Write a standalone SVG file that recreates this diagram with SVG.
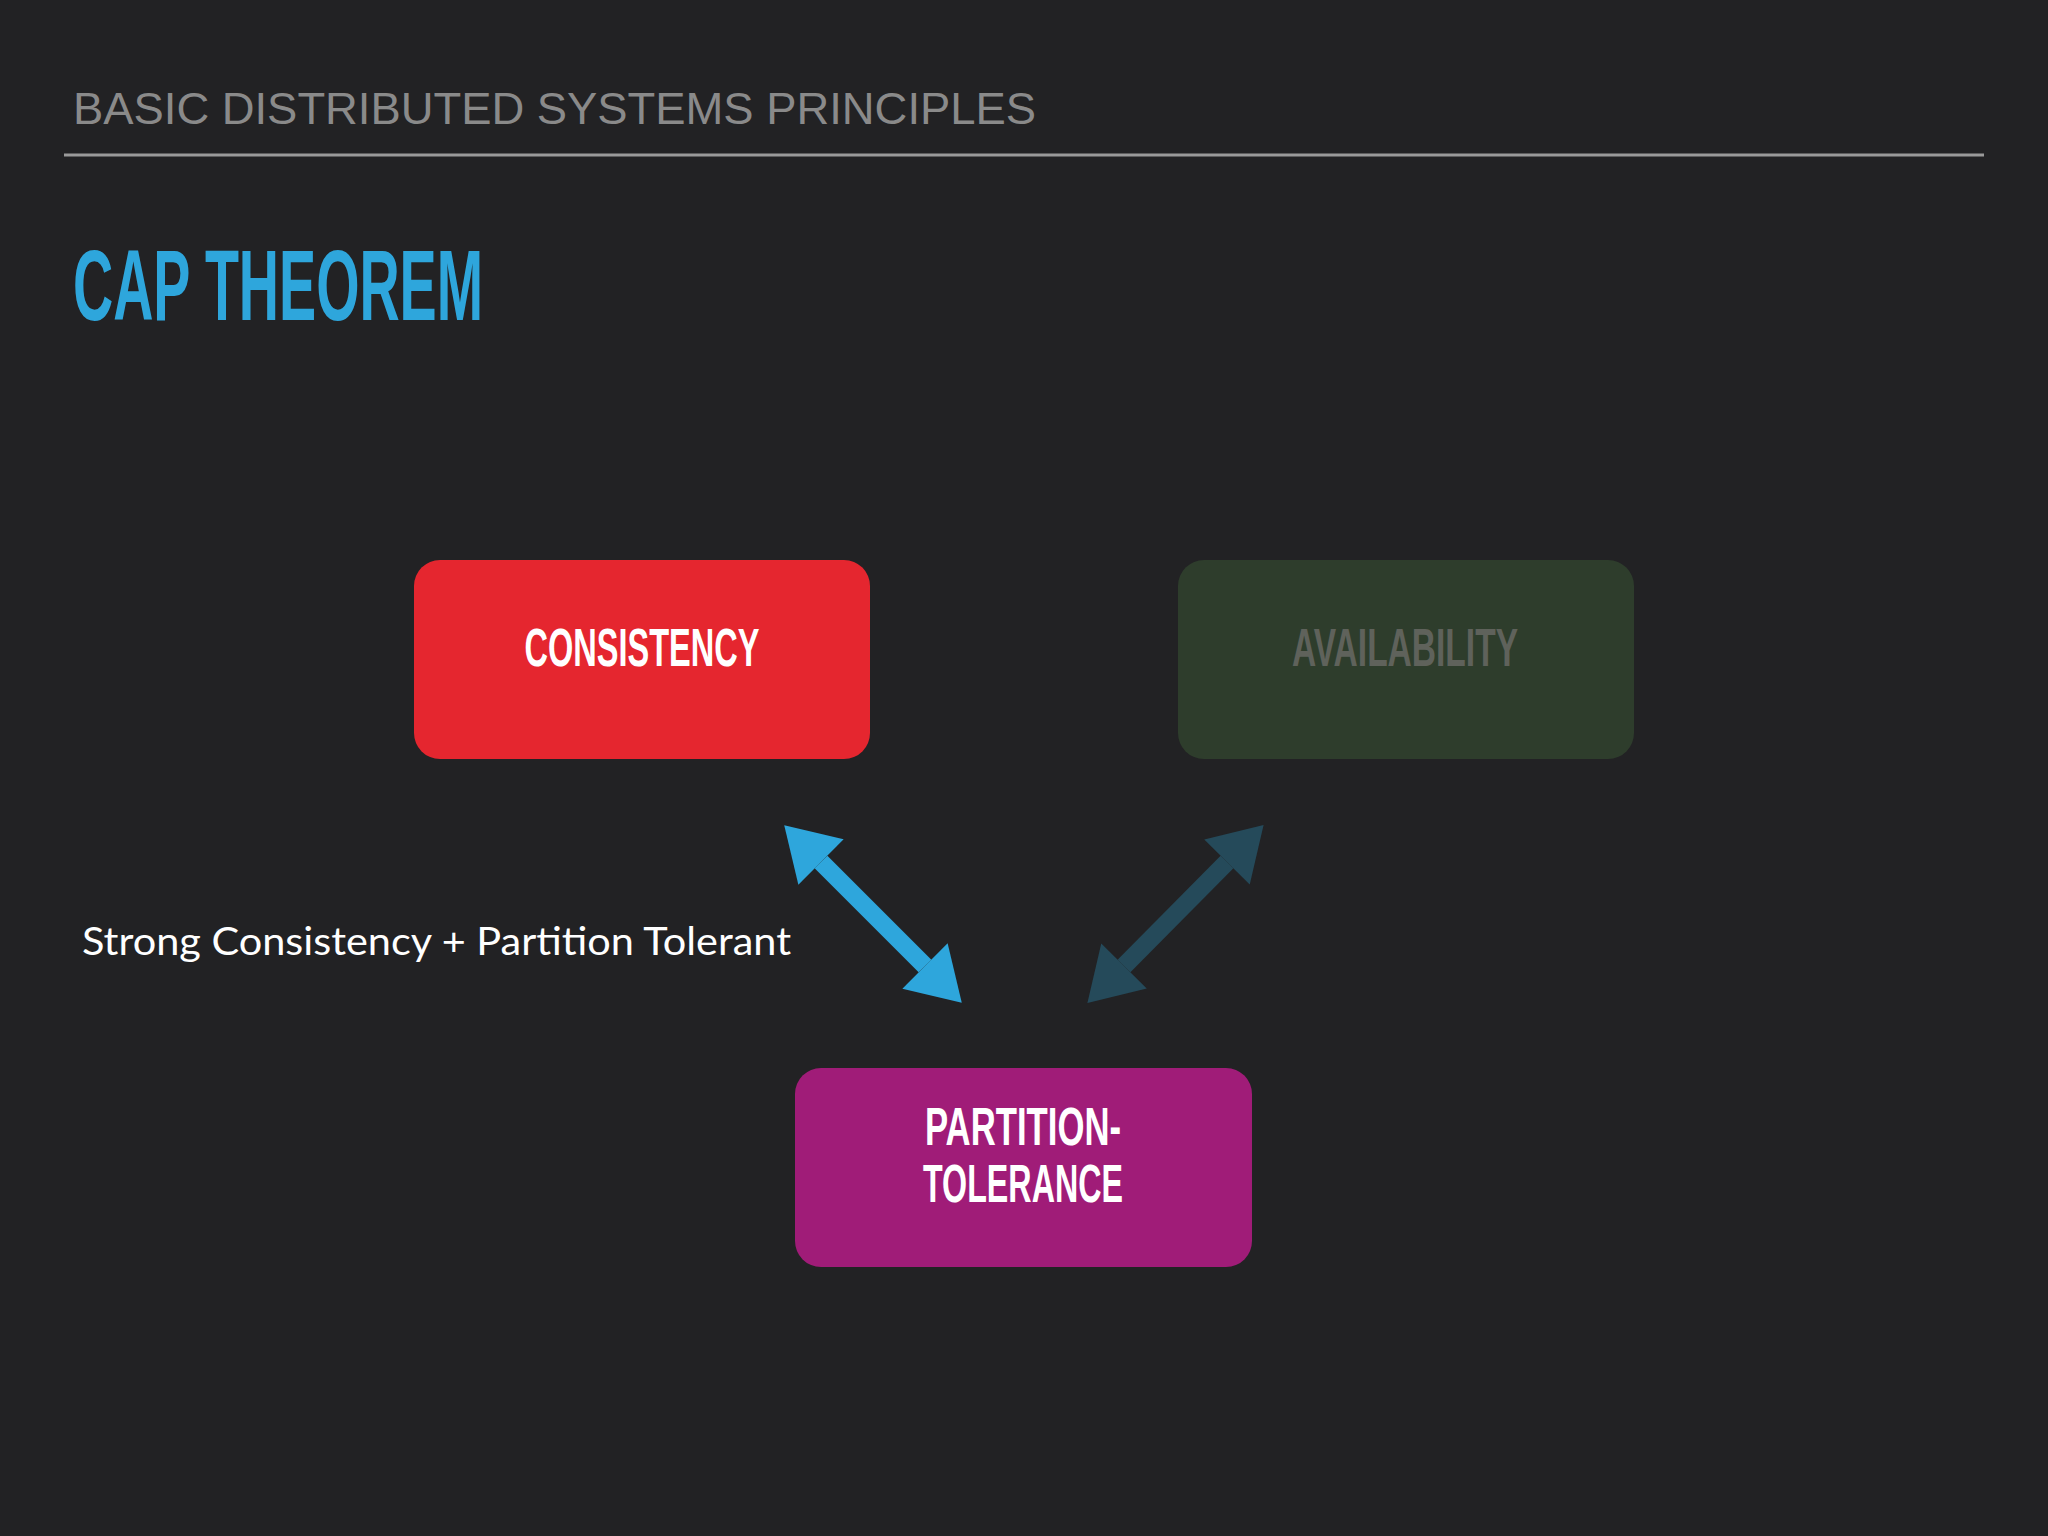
<svg xmlns="http://www.w3.org/2000/svg" width="2048" height="1536" viewBox="0 0 2048 1536">
<style>
.box{stroke:none}
.lbl{font-family:"Liberation Sans",Arial,sans-serif;font-weight:bold;font-size:54px;text-anchor:middle}
</style>
<defs>
<marker id="hb" markerUnits="userSpaceOnUse" markerWidth="60" markerHeight="70" viewBox="0 -35 56 70" refX="0" refY="0" orient="auto-start-reverse"><path d="M0,-32 L52,0 L0,32 z" fill="#2ea6dc"/></marker>
<marker id="hd" markerUnits="userSpaceOnUse" markerWidth="60" markerHeight="70" viewBox="0 -35 56 70" refX="0" refY="0" orient="auto-start-reverse"><path d="M0,-32 L52,0 L0,32 z" fill="#254a5a"/></marker>
</defs>
<rect width="2048" height="1536" fill="#222224"/>
<text x="73" y="124" font-family="Liberation Sans,Arial,sans-serif" font-size="44" fill="#8a8a8a" textLength="963" lengthAdjust="spacingAndGlyphs">BASIC DISTRIBUTED SYSTEMS PRINCIPLES</text>
<line x1="64" y1="155" x2="1984" y2="155" stroke="#9a9a9a" stroke-width="3"/>
<text x="73" y="320" font-family="Liberation Sans,Arial,sans-serif" font-weight="bold" font-size="100" fill="#2ea6dc" textLength="410" lengthAdjust="spacingAndGlyphs">CAP THEOREM</text>
<g id="consistency"><rect class="box" x="414" y="560" width="456" height="199" rx="26" fill="#e5262f"/><text class="lbl" x="642" y="666" fill="#ffffff" textLength="235" lengthAdjust="spacingAndGlyphs">CONSISTENCY</text></g>
<g id="availability"><rect class="box" x="1178" y="560" width="456" height="199" rx="26" fill="#2e3d2c"/><text class="lbl" x="1405" y="666" fill="#5f625b" textLength="226" lengthAdjust="spacingAndGlyphs">AVAILABILITY</text></g>
<g id="partition"><rect class="box" x="795" y="1068" width="457" height="199" rx="26" fill="#a01c78"/><text class="lbl" x="1023" y="1145" fill="#ffffff" textLength="196" lengthAdjust="spacingAndGlyphs">PARTITION-</text><text class="lbl" x="1023" y="1202" fill="#ffffff" textLength="200" lengthAdjust="spacingAndGlyphs">TOLERANCE</text></g>
<g id="connectors">
<line x1="821" y1="862" x2="925" y2="966" stroke="#2ea6dc" stroke-width="18" marker-start="url(#hb)" marker-end="url(#hb)"/>
<line x1="1227" y1="862" x2="1124" y2="966" stroke="#254a5a" stroke-width="18" marker-start="url(#hd)" marker-end="url(#hd)"/>
</g>
<text x="82" y="955" font-family="Lato,'Liberation Sans',sans-serif" font-size="38" fill="#ffffff" textLength="709" lengthAdjust="spacingAndGlyphs">Strong Consistency + Partition Tolerant</text>
</svg>
